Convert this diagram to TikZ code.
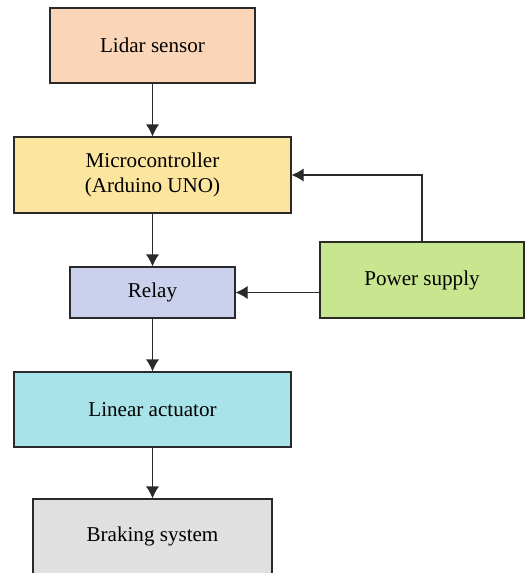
\documentclass[tikz,border=0pt]{standalone}
\usepackage{fontspec}
\setmainfont{Liberation Serif}
\usetikzlibrary{arrows.meta}

\definecolor{lidarfill}{HTML}{FAD5B8}
\definecolor{mcufill}{HTML}{FBE59F}
\definecolor{relayfill}{HTML}{CBD1EC}
\definecolor{powerfill}{HTML}{C8E58F}
\definecolor{actfill}{HTML}{A8E3EA}
\definecolor{brakefill}{HTML}{E0E0E0}
\definecolor{edge}{HTML}{2A2A2A}

\begin{document}
\begin{tikzpicture}[>={Latex[length=2.4mm,width=2.6mm]}, font=\fontsize{12}{14}\selectfont]
  \tikzset{
    block/.style={draw=edge, line width=0.6pt, align=center, inner sep=0pt},
    link/.style={draw=edge, line width=0.6pt, ->}
  }
  % page size
  \useasboundingbox (0,0) rectangle (10.5,-11.46);
  \clip (0,0) rectangle (10.5,-11.46);

  % --- blocks ---
  \node[block, fill=lidarfill, minimum width=4.1cm, minimum height=1.5cm] (lidar) at (3.05,-0.91) {Lidar sensor};
  \node[block, fill=mcufill, minimum width=5.54cm, minimum height=1.52cm] (mcu) at (3.05,-3.5) {Microcontroller\\(Arduino UNO)};
  \node[block, fill=relayfill, minimum width=3.3cm, minimum height=1.02cm] (relay) at (3.05,-5.85) {Relay};
  \node[block, fill=powerfill, minimum width=4.08cm, minimum height=1.52cm] (power) at (8.44,-5.6) {Power supply};
  \node[block, fill=actfill, minimum width=5.54cm, minimum height=1.5cm] (act) at (3.05,-8.19) {Linear actuator};
  \node[block, fill=brakefill, minimum width=4.78cm, minimum height=1.5cm] (brake) at (3.05,-10.73) {Braking system};

  % --- signal chain ---
  \draw[link] (lidar) -- (mcu);
  \draw[link] (mcu) -- (relay);
  \draw[link] (relay) -- (act);
  \draw[link] (act) -- (brake);

  % --- power lines ---
  \draw[link] (power.west |- relay.east) -- (relay.east);
  \draw[link] (power.north) |- (mcu.east);

\end{tikzpicture}
\end{document}
